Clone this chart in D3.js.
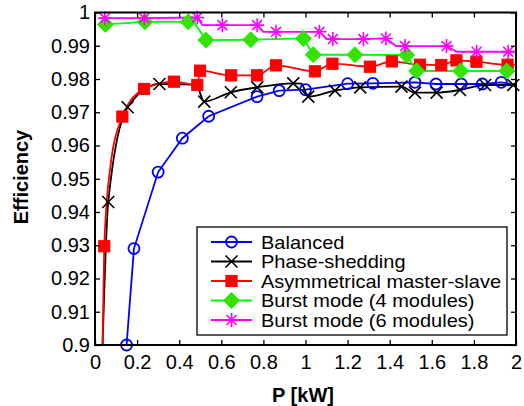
<!DOCTYPE html>
<html><head><meta charset="utf-8">
<script src="https://cdn.jsdelivr.net/npm/d3@7"></script>
<style>body{margin:0;background:#fff}svg{display:block}text{font-family:"Liberation Sans",Arial,Helvetica,sans-serif}</style>
</head><body>
<script>
// ---- data ----
const xTicks = [0,0.2,0.4,0.6,0.8,1,1.2,1.4,1.6,1.8,2];
const yTicks = [0.9,0.91,0.92,0.93,0.94,0.95,0.96,0.97,0.98,0.99,1];
const xTickLabels = ["0","0.2","0.4","0.6","0.8","1","1.2","1.4","1.6","1.8","2"];
const yTickLabels = ["0.9","0.91","0.92","0.93","0.94","0.95","0.96","0.97","0.98","0.99","1"];
const seriesNames = ["Balanced","Phase-shedding","Asymmetrical master-slave","Burst mode (4 modules)","Burst mode (6 modules)"];

// Balanced (markers)
const balancedP = [0.15,0.185,0.30,0.415,0.54,0.77,0.875,1.0,1.2,1.32,1.52,1.62,1.74,1.84,1.93];
const balancedE = [0.900,0.929,0.952,0.9622,0.9688,0.9747,0.9765,0.9768,0.9786,0.9787,0.9790,0.9785,0.9785,0.9785,0.9790];
// Balanced (line)
const balancedLineP = [0.15,0.185,0.30,0.415,0.54,0.77,0.875,1.0,1.2,1.32,1.52,1.62,1.74,1.84,1.93,2.0];
const balancedLineE = [0.900,0.929,0.952,0.9622,0.9688,0.9747,0.9765,0.9768,0.9786,0.9787,0.9790,0.9785,0.9785,0.9785,0.9790,0.9783];

// Phase-shedding
const phaseP = [0.063,0.155,0.306,0.519,0.645,0.771,0.942,1.013,1.14,1.26,1.456,1.52,1.623,1.734,1.853,1.987];
const phaseE = [0.943,0.9715,0.9785,0.9732,0.9760,0.9775,0.9787,0.9747,0.9765,0.9775,0.9777,0.9759,0.9759,0.9767,0.9782,0.9782];
const phaseLineP = [0.036,0.063,0.155,0.306,0.48,0.519,0.645,0.771,0.942,0.98,1.013,1.14,1.26,1.456,1.52,1.623,1.734,1.853,1.987,2.0];
const phaseLineE = [0.900,0.943,0.9715,0.9785,0.9783,0.9732,0.9760,0.9775,0.9787,0.9786,0.9747,0.9765,0.9775,0.9777,0.9759,0.9759,0.9767,0.9782,0.9782,0.9782];

// Asymmetrical master-slave
const asymP = [0.044,0.13,0.233,0.375,0.486,0.499,0.647,0.77,0.86,1.045,1.128,1.306,1.41,1.544,1.645,1.717,1.812,1.96];
const asymE = [0.9297,0.9687,0.9770,0.9792,0.9782,0.9825,0.9811,0.9811,0.9841,0.9823,0.9846,0.9837,0.9853,0.9843,0.9842,0.9856,0.9852,0.9843];
const asymLineP = [0.036,0.044,0.071,0.13,0.233,0.375,0.486,0.499,0.647,0.77,0.86,1.045,1.128,1.306,1.41,1.544,1.645,1.717,1.812,1.96,2.0];
const asymLineE = [0.900,0.9297,0.9526,0.9687,0.9770,0.9792,0.9782,0.9825,0.9811,0.9811,0.9841,0.9823,0.9846,0.9837,0.9853,0.9843,0.9842,0.9856,0.9852,0.9843,0.9843];

// Burst mode (4 modules)
const burst4P = [0.05,0.2375,0.443,0.527,0.74,0.99,1.037,1.235,1.48,1.528,1.737,1.956];
const burst4E = [0.9964,0.9972,0.9972,0.9917,0.9918,0.9922,0.9873,0.9873,0.9872,0.9824,0.9824,0.9824];
const burst4LineP = [0.05,0.2375,0.443,0.47,0.527,0.74,0.99,1.037,1.235,1.48,1.528,1.737,1.956,2.0];
const burst4LineE = [0.9964,0.9972,0.9972,0.9971,0.9917,0.9918,0.9922,0.9873,0.9873,0.9872,0.9824,0.9824,0.9824,0.9824];

// Burst mode (6 modules)
const burst6P = [0.047,0.234,0.486,0.605,0.77,0.86,1.066,1.13,1.275,1.382,1.473,1.67,1.813,1.963];
const burst6E = [0.9983,0.9983,0.9985,0.9962,0.9962,0.9942,0.9942,0.9920,0.9920,0.9922,0.9899,0.9899,0.9882,0.9882];
const burst6LineP = [0.047,0.234,0.486,0.51,0.605,0.77,0.80,0.86,1.066,1.10,1.13,1.275,1.382,1.43,1.473,1.67,1.72,1.813,1.963,2.0];
const burst6LineE = [0.9983,0.9983,0.9985,0.9962,0.9962,0.9962,0.9942,0.9942,0.9942,0.9921,0.9920,0.9920,0.9922,0.9899,0.9899,0.9899,0.9882,0.9882,0.9882,0.9882];

// ---- drawing ----
const W = 524, H = 406;
const svg = d3.select("body").append("svg").attr("width", W).attr("height", H);
const xS = d3.scaleLinear().domain([0, 2]).range([95, 516]);
const yS = d3.scaleLinear().domain([0.9, 1]).range([345, 12.5]);
const FS = 20;
const LFS = 19;

svg.append("defs").append("clipPath").attr("id","clip")
  .append("rect").attr("x",95).attr("y",12.5).attr("width",421).attr("height",332.5);

const zip = (a,b) => a.map((v,i)=>[v,b[i]]);

const series = [
  {line: zip(balancedLineP,balancedLineE), pts: zip(balancedP,balancedE), color:"#0000ff", marker:"circle", curve:d3.curveLinear},
  {line: zip(phaseLineP,phaseLineE), pts: zip(phaseP,phaseE), color:"#000000", marker:"x", curve:d3.curveMonotoneX},
  {line: zip(asymLineP,asymLineE), pts: zip(asymP,asymE), color:"#ff0000", marker:"square", curve:d3.curveMonotoneX},
  {line: zip(burst4LineP,burst4LineE), pts: zip(burst4P,burst4E), color:"#00ff00", fill:"#3ce000", marker:"diamond", curve:d3.curveLinear},
  {line: zip(burst6LineP,burst6LineE), pts: zip(burst6P,burst6E), color:"#ff00ff", marker:"star", curve:d3.curveLinear}
];

function drawMarker(g, type, cx, cy, s) {
  const color = s.color;
  if (type === "circle") {
    g.append("circle").attr("cx",cx).attr("cy",cy).attr("r",5.5)
      .attr("fill","none").attr("stroke",color).attr("stroke-width",1.8);
  } else if (type === "x") {
    const r = 6;
    g.append("path").attr("d",`M${cx-r},${cy-r}L${cx+r},${cy+r}M${cx-r},${cy+r}L${cx+r},${cy-r}`)
      .attr("stroke",color).attr("stroke-width",1.6).attr("fill","none");
  } else if (type === "square") {
    const r = 5.6;
    g.append("rect").attr("x",cx-r).attr("y",cy-r).attr("width",2*r).attr("height",2*r)
      .attr("fill",color).attr("stroke",color).attr("stroke-width",1);
  } else if (type === "diamond") {
    const r = 8;
    g.append("path").attr("d",`M${cx},${cy-r}L${cx+r},${cy}L${cx},${cy+r}L${cx-r},${cy}Z`)
      .attr("fill",s.fill||color).attr("stroke",color).attr("stroke-width",1);
  } else if (type === "star") {
    const r = 7;
    const d = r*0.707;
    g.append("path").attr("d",`M${cx},${cy-r}L${cx},${cy+r}M${cx-r},${cy}L${cx+r},${cy}M${cx-d},${cy-d}L${cx+d},${cy+d}M${cx-d},${cy+d}L${cx+d},${cy-d}`)
      .attr("stroke",color).attr("stroke-width",1.6).attr("fill","none");
  }
}

const plot = svg.append("g").attr("clip-path","url(#clip)");
series.forEach(s => {
  const lineGen = d3.line().x(d=>xS(d[0])).y(d=>yS(d[1])).curve(s.curve);
  plot.append("path").attr("d", lineGen(s.line)).attr("fill","none")
    .attr("stroke", s.color).attr("stroke-width", 1.8);
  const mg = svg.append("g");
  s.pts.forEach(p => drawMarker(mg, s.marker, xS(p[0]), yS(p[1]), s));
});

// axes (box, inward ticks)
const axisG = svg.append("g");
const axB = d3.axisBottom(xS).tickValues(xTicks).tickFormat((d,i)=>xTickLabels[i]).tickSizeInner(-5).tickSizeOuter(0).tickPadding(10);
const axT = d3.axisTop(xS).tickValues(xTicks).tickFormat("").tickSizeInner(-5).tickSizeOuter(0);
const axL = d3.axisLeft(yS).tickValues(yTicks).tickFormat((d,i)=>yTickLabels[i]).tickSizeInner(-5).tickSizeOuter(0).tickPadding(5);
const axR = d3.axisRight(yS).tickValues(yTicks).tickFormat("").tickSizeInner(-5).tickSizeOuter(0);
axisG.append("g").attr("transform","translate(0,345)").call(axB);
axisG.append("g").attr("transform","translate(0,12.5)").call(axT);
axisG.append("g").attr("transform","translate(95,0)").call(axL);
axisG.append("g").attr("transform","translate(516,0)").call(axR);
axisG.selectAll(".domain").remove();
axisG.selectAll(".tick line").attr("stroke","#000").attr("stroke-width",1.3);
axisG.selectAll(".tick text").attr("font-size",FS).attr("fill","#000").attr("font-family","Liberation Sans, Arial, sans-serif");
svg.append("rect").attr("x",95).attr("y",12.5).attr("width",421).attr("height",332.5)
  .attr("fill","none").attr("stroke","#000").attr("stroke-width",2);

// axis titles
svg.append("text").attr("x",303).attr("y",402).attr("text-anchor","middle")
  .attr("font-size",FS).attr("font-weight","bold").text("P [kW]");
svg.append("text").attr("transform","translate(28,177) rotate(-90)").attr("text-anchor","middle")
  .attr("font-size",FS).attr("font-weight","bold").text("Efficiency");

// legend
const lg = svg.append("g");
const lx = 197, ly = 227, lw = 310, lh = 108;
lg.append("rect").attr("x",lx).attr("y",ly).attr("width",lw).attr("height",lh)
  .attr("fill","#fff").attr("stroke","#000").attr("stroke-width",1.3);
const rowY = [242, 261.5, 281, 300.5, 320];
series.forEach((s,i) => {
  const yy = rowY[i];
  lg.append("line").attr("x1",211).attr("x2",252).attr("y1",yy).attr("y2",yy)
    .attr("stroke",s.color).attr("stroke-width",1.8);
  drawMarker(lg, s.marker, 231.5, yy, s);
  const t = lg.append("text").attr("x",261).attr("y",yy).attr("dy","0.35em").attr("font-size",LFS)
    .text(seriesNames[i]);
  const len = t.node().getComputedTextLength();
  t.attr("textLength", len * 20 / 19).attr("lengthAdjust","spacingAndGlyphs");
});
</script>
</body></html>
